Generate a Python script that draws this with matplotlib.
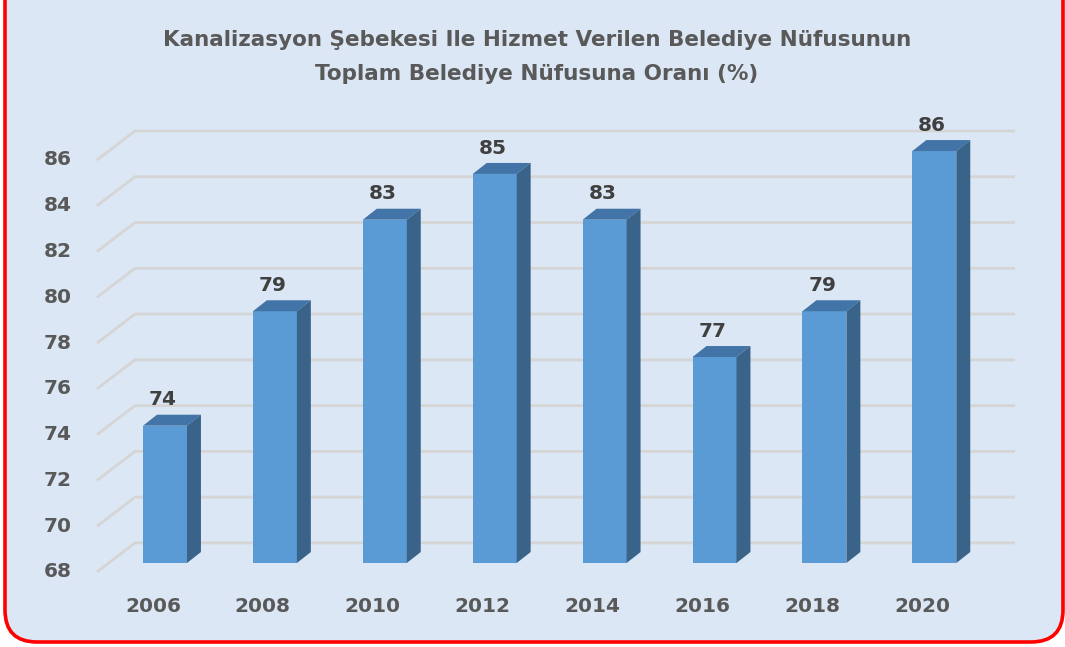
import matplotlib
matplotlib.use("Agg")
import matplotlib.pyplot as plt
from matplotlib.patches import FancyBboxPatch, Polygon

# chart data
years = ["2006", "2008", "2010", "2012", "2014", "2016", "2018", "2020"]
ratios = [74, 79, 83, 85, 83, 77, 79, 86]
y_ticks = [68, 70, 72, 74, 76, 78, 80, 82, 84, 86]
title_lines = ["Kanalizasyon Şebekesi Ile Hizmet Verilen Belediye Nüfusunun",
               "Toplam Belediye Nüfusuna Oranı (%)"]

FONT = ["DejaVu Sans"]
FS = 14.5
BG = "#DBE7F4"
FRONT, TOP, SIDE = "#5B9BD5", "#4274A8", "#3A6389"
GRID = "#D5D5D5"
TXT = "#595959"

fig = plt.figure(figsize=(10.65, 6.47), dpi=100)
fig.patch.set_facecolor("white")

# rounded red frame, drawn in pixel units
bg = fig.add_axes([0, 0, 1, 1])
bg.set_xlim(0, 1065)
bg.set_ylim(647, 0)
bg.axis("off")
bg.add_patch(FancyBboxPatch((5, -40), 1058, 682, boxstyle="round,pad=0,rounding_size=32",
                            facecolor=BG, edgecolor="#FF0000", linewidth=2.6))

# plotting axes: x in category units, y in value units
ax = fig.add_axes([0, 0, 1, 1])
ax.patch.set_alpha(0)
ax.set_xlim(-1.5014, 8.189)
ax.set_ylim(64.72, 92.99)
ax.axis("off")

y0 = y_ticks[0]
wall_x0, wall_dx, wall_dy, wall_x1 = -0.619, 0.346, 1.267, 7.734
for v in y_ticks:
    ax.plot([wall_x0, wall_x0 + wall_dx, wall_x1], [v, v + wall_dy, v + wall_dy],
            color=GRID, lw=2, zorder=1, solid_capstyle="butt")
    ax.text(-0.85, v, str(v), ha="right", va="center", fontsize=FS, fontweight="bold",
            color=TXT, family=FONT)

w, lift, dx, dy = 0.40, 0.39, 0.127, 0.48
for i, (yr, v) in enumerate(zip(years, ratios)):
    ax.bar(i, v - y0, bottom=y0 + lift, width=w, color=FRONT, zorder=3)
    xl, xr, top = i - w / 2, i + w / 2, v + lift
    ax.add_patch(Polygon([(xl, top), (xr, top), (xr + dx, top + dy), (xl + dx, top + dy)],
                         closed=True, facecolor=TOP, edgecolor="none", zorder=3))
    ax.add_patch(Polygon([(xr, y0 + lift), (xr, top), (xr + dx, top + dy), (xr + dx, y0 + lift + dy)],
                         closed=True, facecolor=SIDE, edgecolor="none", zorder=3))
    ax.text(i - 0.02, v + 1.52, str(v), ha="center", va="center", fontsize=FS,
            fontweight="bold", color="#404040", family=FONT, zorder=4)
    ax.text(i - 0.11, y0 - 1.49, yr, ha="center", va="center", fontsize=FS,
            fontweight="bold", color=TXT, family=FONT)

for line, yp in zip(title_lines, [1 - 40 / 647, 1 - 74 / 647]):
    fig.text(0.504, yp, line, ha="center", va="center", fontsize=15.5, fontweight="bold",
             color=TXT, family=FONT)

fig.savefig("out.png", dpi=100, facecolor=fig.get_facecolor())
